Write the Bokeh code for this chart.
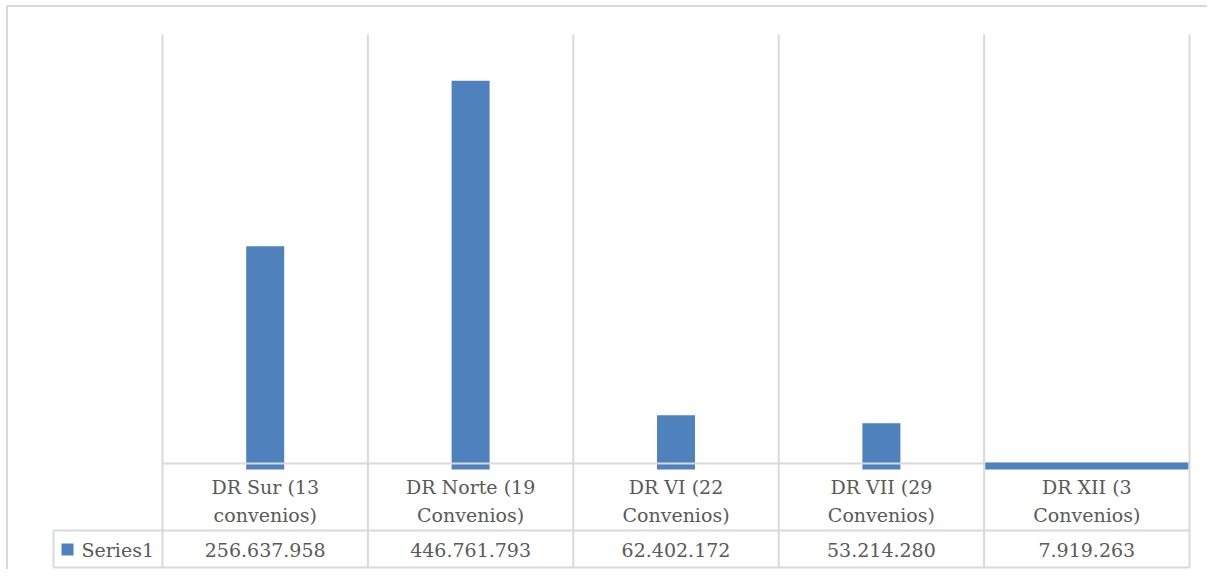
from bokeh.plotting import figure
from bokeh.models import Range1d
from bokeh.core.properties import value
from bokeh.embed import file_html
from bokeh.resources import INLINE

# ---- data ----
cat_line1 = ["DR Sur (13", "DR Norte (19", "DR VI (22", "DR VII (29", "DR XII (3"]
cat_line2 = ["convenios)", "Convenios)", "Convenios)", "Convenios)", "Convenios)"]
values = [256637958, 446761793, 62402172, 53214280, 7919263]
series_name = "Series1"
y_max = 500000000

# ---- layout helpers (screen px -> data) ----
W, H = 1207, 569
PX0 = 162.0           # x of category 0 left edge
CW = (1189.0 - 162.0) / 5   # category width in px
PY0 = 469.0           # y of zero
K = (469.0 - 34.0) / y_max  # px per unit


def X(sx):
    return (sx - PX0) / CW


def Y(sy):
    return (PY0 - sy) / K


p = figure(width=W, height=H, output_backend="svg", toolbar_location=None,
           x_range=Range1d(X(0), X(W)), y_range=Range1d(Y(H), Y(0)),
           min_border=0, min_border_left=0, min_border_right=0,
           min_border_top=0, min_border_bottom=0)
p.axis.visible = False
p.grid.visible = False
p.outline_line_color = None
p.background_fill_color = "white"
p.border_fill_color = "white"

GRID = "#d9d9d9"
BLUE = "#4f81bd"
TXT = "#595959"
FONT = value("DejaVu Serif")
FS = "19px"

n = len(values)
centers = [i + 0.5 for i in range(n)]

# bars (first four narrow)
p.vbar(x=centers[:4], top=values[:4], bottom=0, width=38 / CW,
       fill_color=BLUE, line_color=None)

# vertical category dividers
p.segment(x0=list(range(n + 1)), x1=list(range(n + 1)),
          y0=[Y(34)] * (n + 1), y1=[Y(567)] * (n + 1),
          line_color=GRID, line_width=2)
# horizontal lines: axis, table rows
p.segment(x0=[0, X(53), X(53)], x1=[n, n, n],
          y0=[Y(463), Y(530), Y(567)], y1=[Y(463), Y(530), Y(567)],
          line_color=GRID, line_width=2)
# legend cell left border
p.segment(x0=[X(53)], x1=[X(53)], y0=[Y(530)], y1=[Y(567)],
          line_color=GRID, line_width=2)
# outer chart border (top, left)
p.segment(x0=[X(6), X(6.5)], x1=[X(W), X(6.5)],
          y0=[Y(5.5), Y(5)], y1=[Y(5.5), Y(H)],
          line_color=GRID, line_width=2)

# last (wide) bar drawn on top, as in the reference
p.vbar(x=[centers[4]], top=[values[4]], bottom=0, width=(1188 - 985) / CW,
       fill_color=BLUE, line_color=None)

# category labels
p.text(x=centers, y=[Y(486)] * n, text=cat_line1, text_font=FONT,
       text_font_size=FS, text_color=TXT, text_align="center", text_baseline="middle")
p.text(x=centers, y=[Y(514)] * n, text=cat_line2, text_font=FONT,
       text_font_size=FS, text_color=TXT, text_align="center", text_baseline="middle")

# value row
val_txt = ["{:,}".format(v).replace(",", ".") for v in values]
p.text(x=centers, y=[Y(549)] * n, text=val_txt, text_font=FONT,
       text_font_size=FS, text_color=TXT, text_align="center", text_baseline="middle")

# legend key
p.rect(x=[X(67)], y=[Y(549)], width=12 / CW, height=12 / K,
       fill_color=BLUE, line_color=None)
p.text(x=[X(81)], y=[Y(549)], text=[series_name], text_font=FONT,
       text_font_size=FS, text_color=TXT, text_align="left", text_baseline="middle")

open("out.html", "w").write(file_html(p, INLINE))
